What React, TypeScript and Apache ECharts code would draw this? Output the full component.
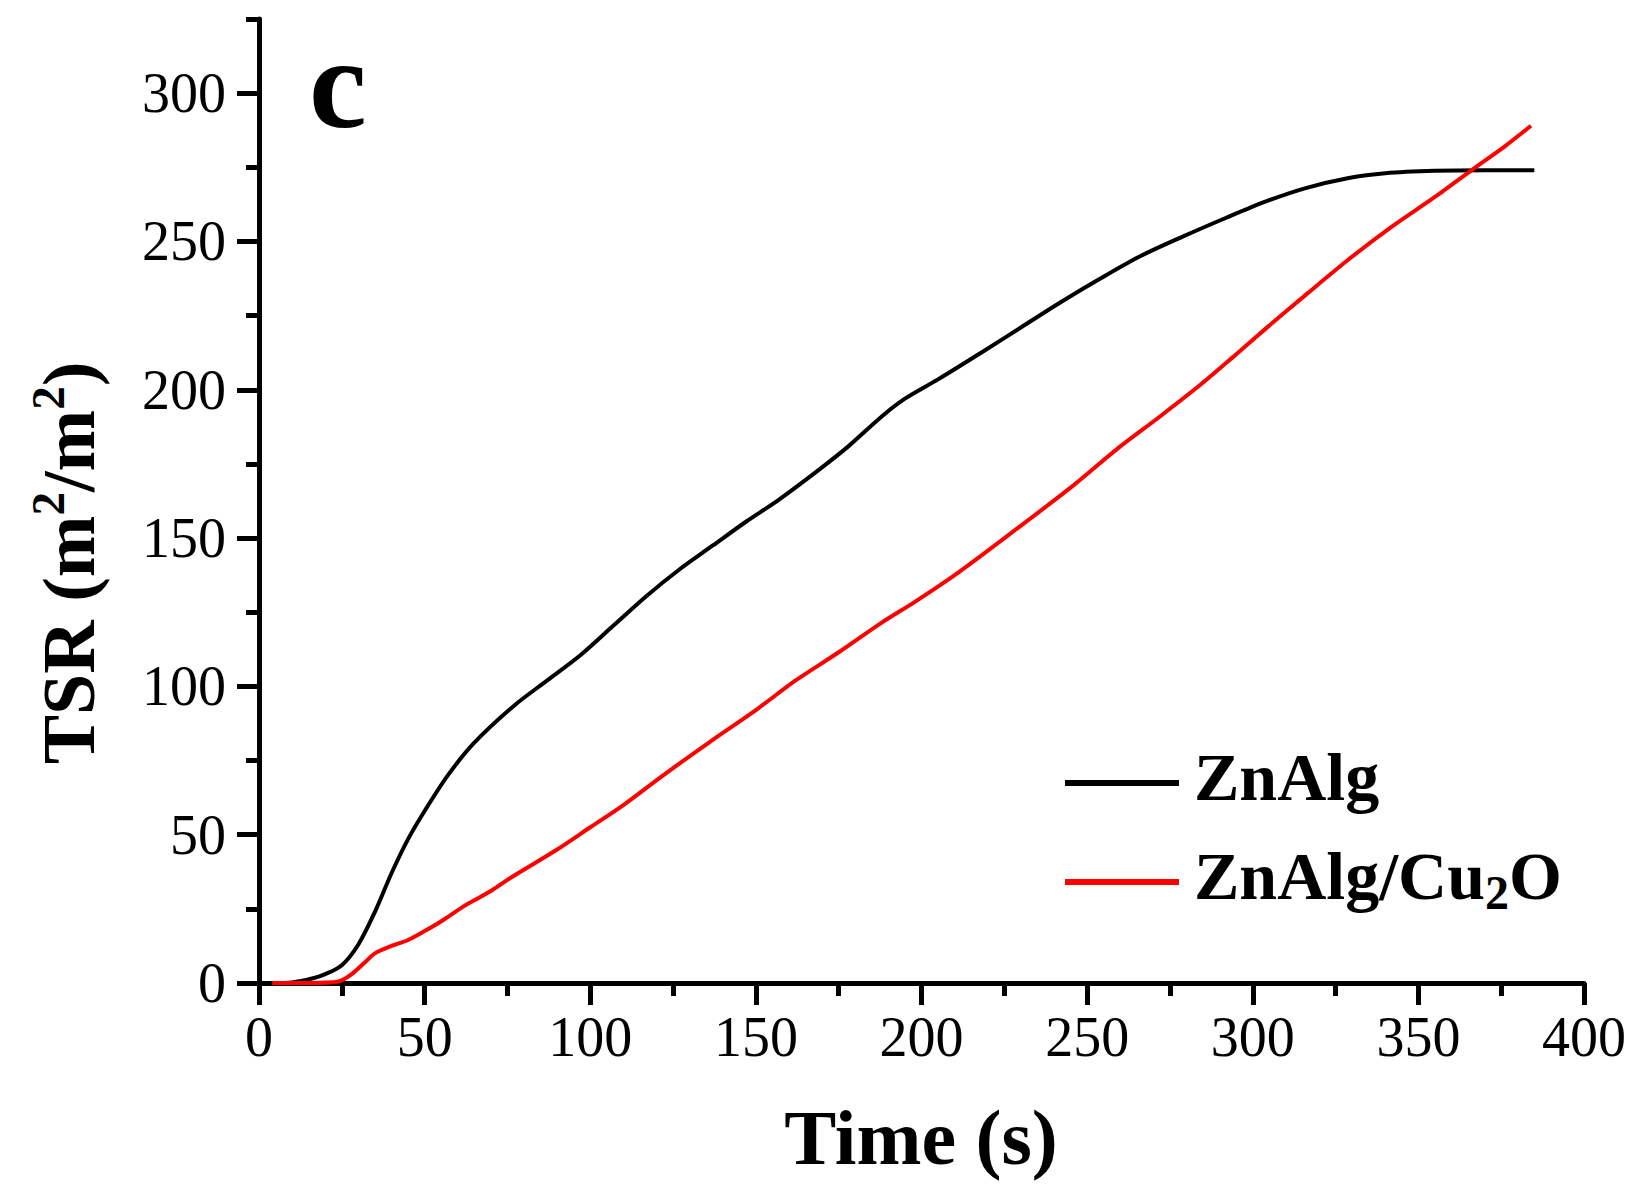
import React, { useEffect, useRef } from 'react';
import * as echarts from 'echarts';

// ZnAlg (black)
const znAlgTime = [4, 10, 16, 20, 25, 30, 35, 40, 45, 50, 57, 65, 77, 87, 97, 107, 117, 127, 137, 147, 157, 169, 178, 188, 195, 205, 218, 230, 242, 254, 266, 279, 292, 304, 316, 329, 340, 355, 370, 385];
const znAlgTSR = [0, 0.2, 1.5, 3, 6, 13, 24, 37, 48.5, 58, 70, 81, 93.5, 102, 110.5, 120.5, 130.5, 139.5, 147.5, 155.5, 163, 173, 181, 191, 197, 203.5, 212.5, 221, 229.5, 237.5, 245, 251.7, 258, 263.5, 268, 271.4, 273, 273.8, 274, 274];

// ZnAlg/Cu2O (red)
const cuTime = [4, 15, 24, 28, 32, 35, 40, 45, 50, 56, 62, 70, 76, 90, 100, 110, 122, 137, 150, 162, 175, 188, 198, 210, 228, 245, 259, 272, 284, 294, 304, 316, 329, 342, 355, 366, 376, 384];
const cuTSR = [0, 0, 0.5, 3, 7, 10, 12.5, 14.5, 17.5, 21.5, 26, 31, 35.5, 45, 52.5, 60, 70, 82, 92, 102, 111.5, 121.5, 128.5, 137.5, 152.5, 167, 180, 191, 201.5, 211, 220.7, 232, 244, 255, 265, 274, 282, 289];

const seriesNames = ['ZnAlg', 'ZnAlg/Cu2O'];
const seriesColors = ['#000000', '#ff0000'];
const yMajorTicks = [0, 50, 100, 150, 200, 250, 300];
const yMinorTicks = [25, 75, 125, 175, 225, 275, 325];
const panelLabel = 'c';

const FONT = '"Liberation Serif", "Times New Roman", serif';

export default function App() {
  const ref = useRef<HTMLDivElement>(null);
  useEffect(() => {
    if (!ref.current) return;
    const chart = echarts.init(ref.current, null, { renderer: 'svg' });
    const pairs = (xs: number[], ys: number[]) => xs.map((x, i) => [x, ys[i]]);
    const tickLabel = { fontFamily: FONT, fontSize: 56, color: '#000' };
    const axisLine = { show: true, lineStyle: { color: '#000', width: 5 } };
    chart.setOption({
      animation: false,
      backgroundColor: '#fff',
      grid: { left: 259, right: 67, top: 19, bottom: 203, containLabel: false, outerBoundsMode: 'none' },
      xAxis: {
        type: 'value', min: 0, max: 400, interval: 50,
        axisLine: { ...axisLine, onZero: false },
        axisTick: { show: true, length: 22, lineStyle: { color: '#000', width: 5 } },
        minorTick: { show: true, splitNumber: 2, length: 13, lineStyle: { color: '#000', width: 5 } },
        splitLine: { show: false },
        axisLabel: { ...tickLabel, margin: 26 },
      },
      yAxis: [
        {
          type: 'value', min: 0, max: 325, position: 'left',
          axisLine: { ...axisLine, onZero: false },
          axisTick: { show: true, length: 22, customValues: yMajorTicks, lineStyle: { color: '#000', width: 5 } },
          splitLine: { show: false },
          axisLabel: { ...tickLabel, margin: 33, customValues: yMajorTicks },
        },
        {
          type: 'value', min: 0, max: 325, position: 'left',
          axisLine: { show: false },
          axisTick: { show: true, length: 13, customValues: yMinorTicks, lineStyle: { color: '#000', width: 5 } },
          splitLine: { show: false },
          axisLabel: { show: false },
        },
      ],
      legend: {
        orient: 'vertical',
        left: 1065,
        top: 737,
        padding: 0,
        icon: 'rect',
        itemWidth: 114,
        itemHeight: 6,
        itemGap: 7,
        data: seriesNames,
        formatter: (name: string) =>
          name === 'ZnAlg/Cu2O' ? '{b|ZnAlg/Cu}{sub|2}{b|O}' : '{b|' + name + '}',
        textStyle: {
          fontFamily: FONT, fontSize: 68, fontWeight: 'bold', color: '#000', lineHeight: 80,
          padding: [0, 0, 12, 10],
          rich: {
            b: { fontFamily: FONT, fontSize: 68, fontWeight: 'bold', color: '#000', lineHeight: 80 },
            sub: { fontFamily: FONT, fontSize: 48, fontWeight: 'bold', color: '#000', lineHeight: 24, verticalAlign: 'bottom' },
          },
        },
      },
      graphic: [
        {
          type: 'text', x: 69, y: 563, rotation: Math.PI / 2,
          style: {
            text: '{b|TSR (m}{sup|2}{b|/m}{sup|2}{b|)}',
            align: 'center', verticalAlign: 'middle',
            fill: '#000',
            rich: {
              b: { fontFamily: FONT, fontSize: 74, fontWeight: 'bold', fill: '#000', lineHeight: 89 },
              sup: { fontFamily: FONT, fontSize: 47, fontWeight: 'bold', fill: '#000', lineHeight: 54, verticalAlign: 'top' },
            },
          },
        },
        {
          type: 'text', x: 921, y: 1137,
          style: {
            text: 'Time (s)', align: 'center', verticalAlign: 'middle',
            fontFamily: FONT, fontSize: 78, fontWeight: 'bold', fill: '#000',
          },
        },
        {
          type: 'text', x: 309, y: 83,
          style: {
            text: panelLabel, align: 'left', verticalAlign: 'middle',
            fontFamily: FONT, fontSize: 130, fontWeight: 'bold', fill: '#000',
          },
        },
      ],
      series: [
        {
          name: seriesNames[0], type: 'line', data: pairs(znAlgTime, znAlgTSR),
          symbol: 'none', smooth: 0.3, color: seriesColors[0],
          lineStyle: { color: seriesColors[0], width: 4 }, yAxisIndex: 0,
        },
        {
          name: seriesNames[1], type: 'line', data: pairs(cuTime, cuTSR),
          symbol: 'none', smooth: 0.3, color: seriesColors[1],
          lineStyle: { color: seriesColors[1], width: 4 }, yAxisIndex: 0,
        },
      ],
    });
    return () => chart.dispose();
  }, []);
  return (
    <div
      ref={ref}
      style={{ position: 'fixed', left: 0, top: 0, width: 1651, height: 1186, background: '#fff' }}
    />
  );
}
